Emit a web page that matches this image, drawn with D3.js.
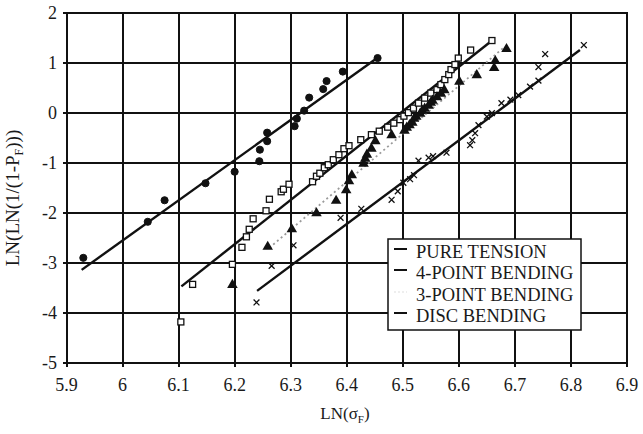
<!DOCTYPE html>
<html>
<head>
<meta charset="utf-8">
<script src="https://cdn.jsdelivr.net/npm/d3@7"></script>
<style>
  html, body { margin: 0; padding: 0; background: #fff; }
  svg { display: block; }
  text { font-family: "Liberation Serif", "Times New Roman", serif; fill: #1a1a1a; }
</style>
</head>
<body>
<svg id="chart" width="643" height="434"></svg>
<script>
// ---- data ----
const xTicks = [5.9, 6, 6.1, 6.2, 6.3, 6.4, 6.5, 6.6, 6.7, 6.8, 6.9];
const yTicks = [2, 1, 0, -1, -2, -3, -4, -5];

const pureX = [5.930, 6.045, 6.075, 6.148, 6.200, 6.244, 6.245, 6.258, 6.258, 6.307, 6.311, 6.324, 6.333, 6.358, 6.364, 6.393, 6.455];
const pureY = [-2.90, -2.18, -1.75, -1.41, -1.18, -0.97, -0.74, -0.57, -0.40, -0.27, -0.12, 0.04, 0.30, 0.47, 0.63, 0.82, 1.09];

const fourX = [6.104, 6.125, 6.196, 6.213, 6.221, 6.226, 6.233, 6.256, 6.262, 6.283, 6.287, 6.297, 6.339, 6.346, 6.352, 6.360, 6.367, 6.376, 6.386, 6.395, 6.404, 6.425, 6.444, 6.458, 6.473, 6.484, 6.495, 6.502, 6.510, 6.519, 6.528, 6.539, 6.550, 6.561, 6.568, 6.575, 6.582, 6.586, 6.593, 6.599, 6.621, 6.659];
const fourY = [-4.18, -3.43, -3.03, -2.69, -2.48, -2.33, -2.12, -1.96, -1.73, -1.58, -1.53, -1.43, -1.38, -1.27, -1.21, -1.10, -1.04, -0.94, -0.84, -0.72, -0.66, -0.54, -0.44, -0.37, -0.29, -0.21, -0.14, -0.07, 0.00, 0.09, 0.19, 0.29, 0.39, 0.46, 0.56, 0.66, 0.76, 0.86, 0.96, 1.09, 1.25, 1.44];

const threeX = [6.196, 6.259, 6.302, 6.346, 6.381, 6.399, 6.404, 6.409, 6.430, 6.433, 6.436, 6.444, 6.451, 6.480, 6.503, 6.507, 6.512, 6.517, 6.520, 6.524, 6.531, 6.535, 6.539, 6.546, 6.550, 6.553, 6.561, 6.568, 6.574, 6.601, 6.632, 6.663, 6.665, 6.685];
const threeY = [-3.44, -2.68, -2.33, -2.01, -1.76, -1.55, -1.37, -1.25, -1.02, -0.92, -0.84, -0.72, -0.57, -0.45, -0.36, -0.30, -0.25, -0.20, -0.12, -0.08, -0.02, 0.04, 0.08, 0.14, 0.20, 0.24, 0.31, 0.38, 0.45, 0.62, 0.75, 0.89, 1.03, 1.27];

const discX = [6.239, 6.266, 6.305, 6.389, 6.426, 6.480, 6.491, 6.501, 6.513, 6.520, 6.528, 6.546, 6.554, 6.578, 6.620, 6.624, 6.629, 6.635, 6.650, 6.659, 6.676, 6.692, 6.706, 6.727, 6.742, 6.742, 6.754, 6.823];
const discY = [-3.79, -3.06, -2.65, -2.10, -1.92, -1.74, -1.57, -1.40, -1.33, -1.25, -0.96, -0.90, -0.87, -0.80, -0.65, -0.55, -0.41, -0.25, -0.08, -0.01, 0.19, 0.26, 0.35, 0.52, 0.64, 0.91, 1.17, 1.35];

// fitted lines (end points)
const pureFitX = [5.927, 6.453], pureFitY = [-3.14, 1.08];
const fourFitX = [6.105, 6.657], fourFitY = [-3.47, 1.42];
const threeFitX = [6.262, 6.680], threeFitY = [-2.70, 1.30];
const discFitX = [6.240, 6.816], discFitY = [-3.56, 1.25];

const legendLabels = ["PURE TENSION", "4-POINT BENDING", "3-POINT BENDING", "DISC BENDING"];

// ---- layout ----
const svg = d3.select("#chart");
const L = 66.5, R = 627, T = 12.5, B = 363;
const x = d3.scaleLinear().domain([5.9, 6.9]).range([L, R]);
const y = d3.scaleLinear().domain([-5, 2]).range([B, T]);
const ink = "#111";

svg.append("rect").attr("width", 643).attr("height", 434).attr("fill", "#fff");

// grid
const g = svg.append("g").attr("shape-rendering", "crispEdges");
g.selectAll(".hg").data(yTicks).join("line")
  .attr("x1", L - 4).attr("x2", R + 1)
  .attr("y1", d => Math.round(y(d))).attr("y2", d => Math.round(y(d)))
  .attr("stroke", ink).attr("stroke-width", 2);
g.selectAll(".vg").data(xTicks).join("line")
  .attr("x1", d => Math.round(x(d))).attr("x2", d => Math.round(x(d)))
  .attr("y1", T - 1).attr("y2", B + 4)
  .attr("stroke", ink).attr("stroke-width", 2);

// tick labels
svg.selectAll(".yl").data(yTicks).join("text")
  .attr("x", 57).attr("y", d => y(d) + 6)
  .attr("text-anchor", "end").attr("font-size", 18)
  .text(d => d);
svg.selectAll(".xl").data(xTicks).join("text")
  .attr("x", d => x(d)).attr("y", 391)
  .attr("text-anchor", "middle").attr("font-size", 18)
  .text(d => d3.format("")(d));

// axis titles
const yt = svg.append("text")
  .attr("transform", "translate(19,198) rotate(-90)")
  .attr("text-anchor", "middle").attr("font-size", 19);
yt.append("tspan").text("LN(LN(1/(1-P");
yt.append("tspan").attr("font-size", 12).attr("dy", 4).text("F");
yt.append("tspan").attr("dy", -4).text(")))");

const xt = svg.append("text")
  .attr("x", 345).attr("y", 419)
  .attr("text-anchor", "middle").attr("font-size", 17);
xt.append("tspan").text("LN(σ");
xt.append("tspan").attr("font-size", 11).attr("dy", 4).text("F");
xt.append("tspan").attr("dy", -4).text(")");

// fit lines
const line = d3.line().x(d => x(d[0])).y(d => y(d[1]));
const fits = [
  { xs: pureFitX, ys: pureFitY, color: ink, dash: null, w: 2.4 },
  { xs: fourFitX, ys: fourFitY, color: ink, dash: null, w: 2.4 },
  { xs: threeFitX, ys: threeFitY, color: "#9a9a9a", dash: "2,3", w: 1.8 },
  { xs: discFitX, ys: discFitY, color: ink, dash: null, w: 2.4 }
];
fits.forEach(f => {
  svg.append("path")
    .attr("d", line(d3.zip(f.xs, f.ys)))
    .attr("fill", "none").attr("stroke", f.color)
    .attr("stroke-width", f.w)
    .attr("stroke-dasharray", f.dash);
});

// markers
const pts = (xs, ys) => d3.zip(xs, ys);
svg.append("g").selectAll("path").data(pts(pureX, pureY)).join("path")
  .attr("transform", d => `translate(${x(d[0])},${y(d[1])})`)
  .attr("d", d3.symbol(d3.symbolCircle, 40))
  .attr("fill", ink).attr("stroke", ink).attr("stroke-width", 1);

svg.append("g").selectAll("rect").data(pts(fourX, fourY)).join("rect")
  .attr("x", d => x(d[0]) - 3).attr("y", d => y(d[1]) - 3)
  .attr("width", 6).attr("height", 6)
  .attr("fill", "#fff").attr("stroke", ink).attr("stroke-width", 1.3);

svg.append("g").selectAll("path").data(pts(threeX, threeY)).join("path")
  .attr("transform", d => `translate(${x(d[0])},${y(d[1])})`)
  .attr("d", d3.symbol(d3.symbolTriangle, 48))
  .attr("fill", ink);

svg.append("g").selectAll("path").data(pts(discX, discY)).join("path")
  .attr("transform", d => `translate(${x(d[0])},${y(d[1])})`)
  .attr("d", d3.symbol(d3.symbolX, 24))
  .attr("fill", "none").attr("stroke", ink).attr("stroke-width", 1.3);

// legend
const lg = svg.append("g");
lg.append("rect").attr("x", 388).attr("y", 239).attr("width", 193).attr("height", 91)
  .attr("fill", "#fff").attr("stroke", ink).attr("stroke-width", 1.5);
const baselines = [258, 279, 301, 322];
legendLabels.forEach((t, i) => {
  lg.append("line")
    .attr("x1", 394).attr("x2", 407)
    .attr("y1", baselines[i] - 9).attr("y2", baselines[i] - 9)
    .attr("stroke", i === 2 ? "#eeeeee" : ink)
    .attr("stroke-width", 2)
    .attr("stroke-dasharray", i === 2 ? "2,2" : null);
  lg.append("text").attr("x", 416).attr("y", baselines[i])
    .attr("font-size", 18.5).text(t);
});
</script>
</body>
</html>
